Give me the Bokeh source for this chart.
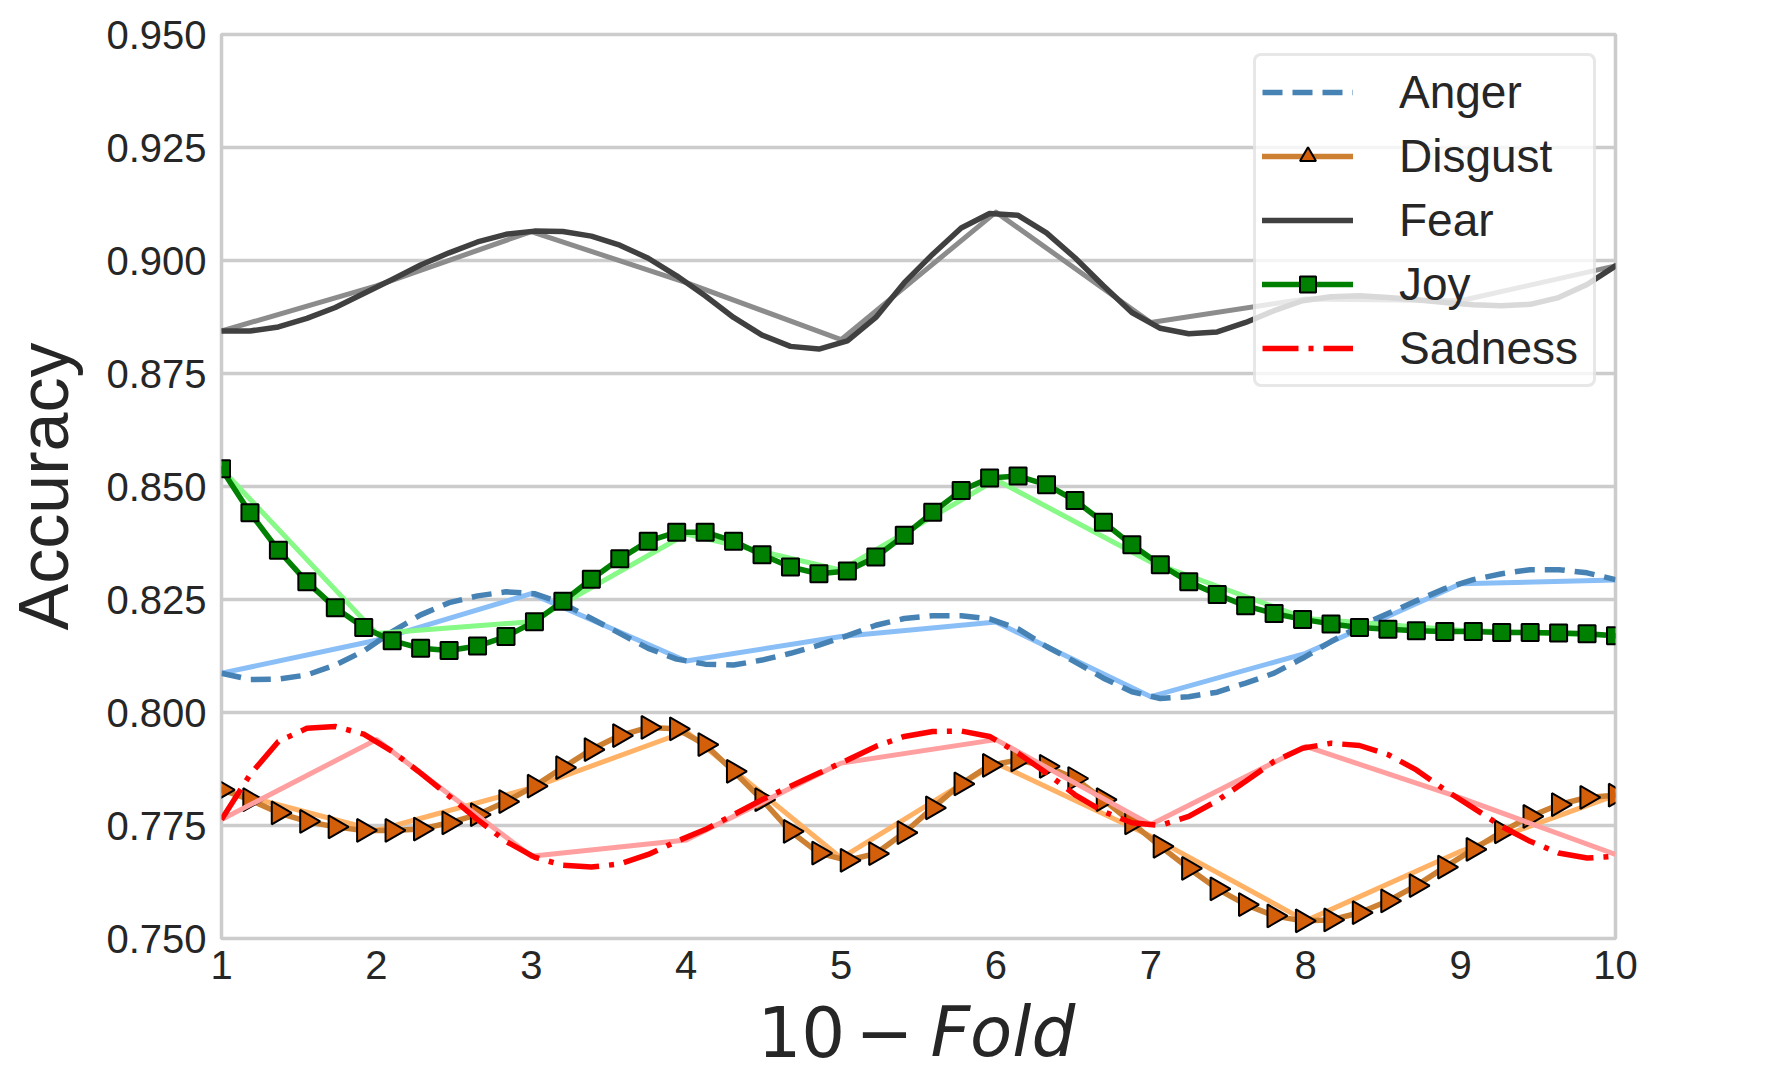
import numpy as np
from bokeh.plotting import figure
from bokeh.layouts import column
from bokeh.models import Legend, LegendItem, FixedTicker, PrintfTickFormatter, Range1d
from bokeh.embed import file_html
from bokeh.resources import INLINE
from bokeh.core.properties import value

# ---------------- data ----------------
folds = [1, 2, 3, 4, 5, 6, 7, 8, 9, 10]
n_smooth = 50
y_ticks = [0.750, 0.775, 0.800, 0.825, 0.850, 0.875, 0.900, 0.925, 0.950]

anger_raw = [0.8087, 0.8160, 0.8263, 0.8114, 0.8168, 0.8200, 0.8035, 0.8131, 0.8285, 0.8293]
disgust_raw = [0.7829, 0.7739, 0.7833, 0.7958, 0.7678, 0.7888, 0.7726, 0.7539, 0.7693, 0.7817]
fear_raw = [0.8844, 0.8944, 0.9064, 0.8951, 0.8825, 0.9107, 0.8863, 0.8915, 0.8911, 0.8988]
joy_raw = [0.8539, 0.8175, 0.8201, 0.8395, 0.8315, 0.8515, 0.8333, 0.8208, 0.8182, 0.8170]
sadness_raw = [0.7763, 0.7940, 0.7682, 0.7718, 0.7888, 0.7940, 0.7752, 0.7925, 0.7811, 0.7686]

anger_smooth = [
    0.8087, 0.8073, 0.8074, 0.8083, 0.8105, 0.8136, 0.8179, 0.8216, 0.8243, 0.8258,
    0.8267, 0.8263, 0.8241, 0.8208, 0.8175, 0.8142, 0.8118, 0.8107, 0.8105, 0.8116,
    0.8131, 0.8149, 0.8170, 0.8193, 0.8208, 0.8214, 0.8214, 0.8207, 0.8185, 0.8146,
    0.8112, 0.8076, 0.8046, 0.8031, 0.8035, 0.8045, 0.8065, 0.8087, 0.8120, 0.8157,
    0.8191, 0.8219, 0.8247, 0.8274, 0.8294, 0.8307, 0.8316, 0.8316, 0.8309, 0.8294]
disgust_smooth = [
    0.7829, 0.7807, 0.7778, 0.7759, 0.7747, 0.7739, 0.7739, 0.7742, 0.7756, 0.7774,
    0.7803, 0.7837, 0.7878, 0.7918, 0.7949, 0.7967, 0.7964, 0.7929, 0.7870, 0.7807,
    0.7737, 0.7689, 0.7673, 0.7688, 0.7734, 0.7789, 0.7842, 0.7883, 0.7895, 0.7881,
    0.7854, 0.7807, 0.7756, 0.7704, 0.7655, 0.7610, 0.7575, 0.7550, 0.7539, 0.7541,
    0.7557, 0.7583, 0.7617, 0.7658, 0.7697, 0.7736, 0.7770, 0.7796, 0.7812, 0.7817]
fear_smooth = [
    0.8844, 0.8844, 0.8853, 0.8872, 0.8896, 0.8927, 0.8958, 0.8990, 0.9017, 0.9041,
    0.9058, 0.9065, 0.9064, 0.9054, 0.9034, 0.9005, 0.8966, 0.8922, 0.8874, 0.8835,
    0.8810, 0.8804, 0.8822, 0.8874, 0.8951, 0.9014, 0.9072, 0.9104, 0.9100, 0.9061,
    0.9006, 0.8944, 0.8885, 0.8850, 0.8838, 0.8842, 0.8863, 0.8889, 0.8911, 0.8920,
    0.8922, 0.8918, 0.8913, 0.8907, 0.8902, 0.8900, 0.8903, 0.8918, 0.8947, 0.8988]
joy_smooth = [
    0.8539, 0.8442, 0.8359, 0.8289, 0.8232, 0.8188, 0.8159, 0.8142, 0.8137, 0.8147,
    0.8168, 0.8201, 0.8246, 0.8295, 0.8340, 0.8379, 0.8399, 0.8399, 0.8379, 0.8349,
    0.8322, 0.8307, 0.8313, 0.8344, 0.8392, 0.8443, 0.8491, 0.8519, 0.8523, 0.8504,
    0.8469, 0.8421, 0.8371, 0.8327, 0.8289, 0.8261, 0.8236, 0.8219, 0.8206, 0.8196,
    0.8188, 0.8184, 0.8181, 0.8179, 0.8179, 0.8177, 0.8177, 0.8176, 0.8174, 0.8170]
sadness_smooth = [
    0.7763, 0.7862, 0.7936, 0.7965, 0.7969, 0.7952, 0.7914, 0.7866, 0.7815, 0.7763,
    0.7715, 0.7680, 0.7662, 0.7658, 0.7665, 0.7686, 0.7715, 0.7741, 0.7774, 0.7807,
    0.7837, 0.7866, 0.7895, 0.7925, 0.7947, 0.7958, 0.7959, 0.7947, 0.7910, 0.7866,
    0.7818, 0.7781, 0.7756, 0.7750, 0.7770, 0.7805, 0.7848, 0.7892, 0.7921, 0.7932,
    0.7927, 0.7907, 0.7873, 0.7829, 0.7789, 0.7748, 0.7715, 0.7689, 0.7678, 0.7682]

smooth_x = list(np.linspace(folds[0], folds[-1], n_smooth))

# ---------------- layout constants ----------------
TXT = "#262626"
GRID = "#cccccc"
W = 1773
H_MAIN = 990
H_XLABEL = 83

p = figure(width=W, height=H_MAIN,
           x_range=Range1d(1, 10), y_range=Range1d(0.75, 0.95),
           output_backend="svg", toolbar_location=None,
           min_border_left=221, min_border_right=158,
           min_border_top=34, min_border_bottom=52,
           background_fill_color="white", border_fill_color="white")

p.outline_line_color = GRID
p.outline_line_width = 3.5
p.xgrid.visible = False
p.ygrid.grid_line_color = GRID
p.ygrid.grid_line_width = 3.5

for ax in (p.xaxis[0], p.yaxis[0]):
    ax.axis_line_color = None
    ax.major_tick_line_color = None
    ax.minor_tick_line_color = None
    ax.major_label_text_font = "Liberation Sans"
    ax.major_label_text_font_size = "40px"
    ax.major_label_text_color = TXT

p.xaxis.ticker = FixedTicker(ticks=folds)
p.xaxis.major_label_standoff = 6
p.yaxis.ticker = FixedTicker(ticks=y_ticks)
p.yaxis.formatter = PrintfTickFormatter(format="%.3f")
p.yaxis.major_label_standoff = 9
p.ygrid.ticker = FixedTicker(ticks=y_ticks)

p.yaxis.axis_label = "Accuracy"
p.yaxis.axis_label_text_font = "Liberation Sans"
p.yaxis.axis_label_text_font_size = "70px"
p.yaxis.axis_label_text_font_style = "normal"
p.yaxis.axis_label_text_color = TXT
p.yaxis.axis_label_standoff = 20

# ---------------- series ----------------
LW_RAW = 5
LW = 5.5

# Anger
p.line(folds, anger_raw, line_color="#8abef6", line_width=LW_RAW, line_join="round")
anger_l = p.line(smooth_x, anger_smooth, line_color="#4682b4", line_width=LW, line_dash="20 10")

# Disgust
p.line(folds, disgust_raw, line_color="#ffb266", line_width=LW_RAW, line_join="round")
disgust_l = p.line(smooth_x, disgust_smooth, line_color="#cd7f32", line_width=LW,
                   line_join="round", line_cap="round")
disgust_m = p.scatter(smooth_x, disgust_smooth, marker="triangle", size=23, angle=-np.pi / 2,
                      fill_color="#d35f0b", line_color="black", line_width=2)

# Fear
p.line(folds, fear_raw, line_color="#8c8c8c", line_width=LW_RAW, line_join="round")
fear_l = p.line(smooth_x, fear_smooth, line_color="#404040", line_width=LW,
                line_join="round", line_cap="round")

# Joy
p.line(folds, joy_raw, line_color="#86f986", line_width=LW_RAW, line_join="round")
joy_l = p.line(smooth_x, joy_smooth, line_color="#008000", line_width=LW,
               line_join="round", line_cap="round")
joy_m = p.scatter(smooth_x, joy_smooth, marker="square", size=17,
                  fill_color="#008000", line_color="black", line_width=2)

# Sadness
p.line(folds, sadness_raw, line_color="#ff9f9f", line_width=LW_RAW, line_join="round")
sad_l = p.line(smooth_x, sadness_smooth, line_color="#ff0000", line_width=LW,
               line_dash="36 10 5 10")

# ---------------- legend ----------------
legend = Legend(items=[
    LegendItem(label="Anger", renderers=[anger_l]),
    LegendItem(label="Disgust", renderers=[disgust_l, disgust_m]),
    LegendItem(label="Fear", renderers=[fear_l]),
    LegendItem(label="Joy", renderers=[joy_l, joy_m]),
    LegendItem(label="Sadness", renderers=[sad_l]),
], location="top_right")
legend.margin = 19
legend.padding = 6
legend.spacing = 4
legend.label_height = 60
legend.glyph_height = 40
legend.glyph_width = 91
legend.label_standoff = 46
legend.label_width = 188
legend.label_text_font = "Liberation Sans"
legend.label_text_font_size = "46px"
legend.label_text_color = TXT
legend.border_line_color = "#d0d0d0"
legend.border_line_width = 3
legend.background_fill_color = "white"
legend.background_fill_alpha = 0.8
if "border_radius" in Legend.properties():
    legend.border_radius = 8
p.add_layout(legend)

# ---------------- x axis label strip: "10 − Fold" (Fold in italics) ----------------
# the strip shares the x scale of the chart, so the label is placed under the folds axis
px = figure(width=W, height=H_XLABEL, x_range=p.x_range, y_range=Range1d(0, H_XLABEL),
            output_backend="svg", toolbar_location=None,
            x_axis_location=None, y_axis_location=None, min_border=0,
            min_border_left=221, min_border_right=158,
            outline_line_color=None, background_fill_color="white",
            border_fill_color="white")
px.grid.visible = False
LBL_Y = H_XLABEL - 41
LBL_SIZE = value("69px")
px.text(x=[4.460], y=[LBL_Y], text=["10"], text_align="left", text_baseline="middle",
        text_font=value("DejaVu Sans"), text_font_size=LBL_SIZE, text_color=TXT)
px.text(x=[5.281], y=[LBL_Y], text=["−"], text_align="center", text_baseline="middle",
        text_font=value("DejaVu Sans"), text_font_size=LBL_SIZE, text_color=TXT)
px.text(x=[5.577], y=[LBL_Y], text=["Fold"], text_align="left", text_baseline="middle",
        text_font=value("DejaVu Sans"), text_font_style="italic",
        text_font_size=LBL_SIZE, text_color=TXT)

layout = column(p, px, spacing=0)
open("out.html", "w").write(file_html(layout, INLINE))
